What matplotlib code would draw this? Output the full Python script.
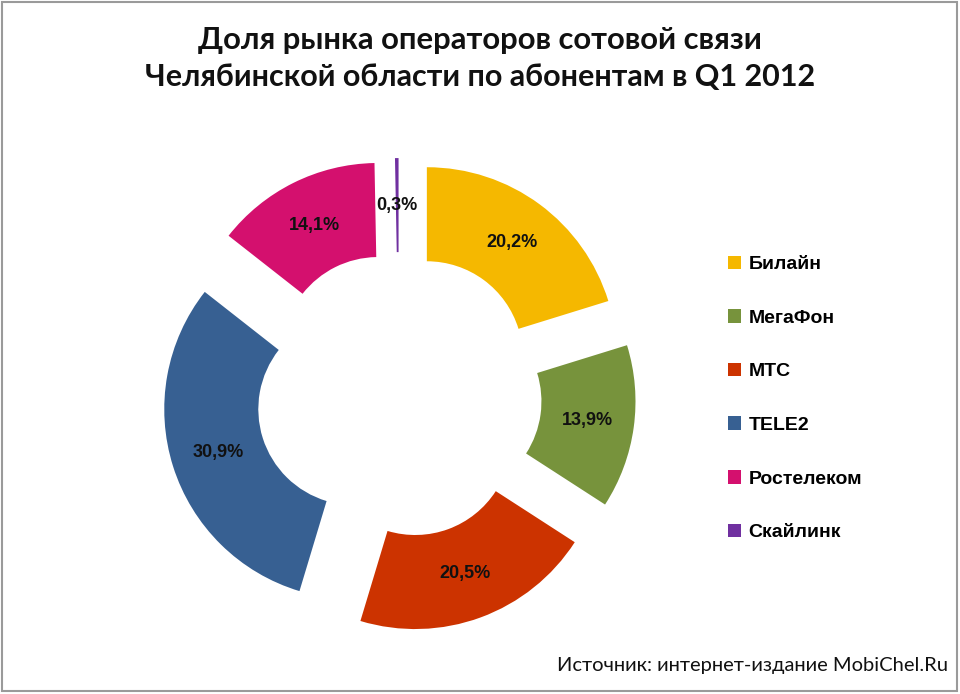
import numpy as np
import matplotlib
matplotlib.use('Agg')
import matplotlib.pyplot as plt
from matplotlib.patches import Rectangle

operators = ["Билайн", "МегаФон", "МТС", "TELE2", "Ростелеком", "Скайлинк"]
shares = [20.2, 13.9, 20.5, 30.9, 14.1, 0.3]
share_labels = ["20,2%", "13,9%", "20,5%", "30,9%", "14,1%", "0,3%"]
colors = ["#F5B800", "#77933C", "#CC3300", "#376092", "#D4106E", "#7030A0"]

W, H = 960, 694
fig = plt.figure(figsize=(W / 100, H / 100), dpi=100)

# donut axes, placed in pixel terms (outer radius ~190 px)
cx, cy = 399, 694 - 395
lim = 1.3
half = lim * 190
ax = fig.add_axes([(cx - half) / W, (cy - half) / H, 2 * half / W, 2 * half / H])

ring = 0.495
wedges, _ = ax.pie(shares, colors=colors, startangle=90, counterclock=False,
                   radius=1.0, explode=[0.247] * len(shares),
                   wedgeprops=dict(width=ring, linewidth=0))
# pie() resets the limits, so set them afterwards
ax.set_xlim(-lim, lim)
ax.set_ylim(-lim, lim)
ax.set_aspect("equal")
ax.axis("off")

mid_r = 1.0 - ring / 2
for w, lab in zip(wedges, share_labels):
    ang = np.deg2rad((w.theta1 + w.theta2) / 2)
    x = w.center[0] + mid_r * np.cos(ang)
    y = w.center[1] + mid_r * np.sin(ang)
    ax.text(x, y, lab, ha="center", va="center", fontsize=13,
            fontweight="bold", family="Liberation Sans", color="#111111")

fig.text(0.5, 1 - 40 / H, "Доля рынка операторов сотовой связи",
         ha="center", va="center", fontsize=22.3, fontweight="bold",
         family="Lato", color="#111111")
fig.text(0.5, 1 - 77 / H, "Челябинской области по абонентам в Q1 2012",
         ha="center", va="center", fontsize=22, fontweight="bold",
         family="Lato", color="#111111")

leg = fig.legend(wedges, operators, loc="upper left",
                 bbox_to_anchor=(710 / W, 1 - 238 / H), frameon=False,
                 handlelength=0.68, handleheight=0.68, handletextpad=0.4,
                 labelspacing=1.86, prop=dict(family="Liberation Sans",
                                              weight="bold", size=14))

fig.text(948 / W, 1 - 666 / H, "Источник: интернет-издание MobiChel.Ru",
         ha="right", va="center", fontsize=14.5, family="Lato", color="#111111")

fig.patches.append(Rectangle((2 / W, 3 / H), 955 / W, 689 / H,
                             transform=fig.transFigure, fill=False,
                             edgecolor="#9a9a9a", linewidth=1.5))

fig.savefig("out.png", dpi=100, facecolor="white")
